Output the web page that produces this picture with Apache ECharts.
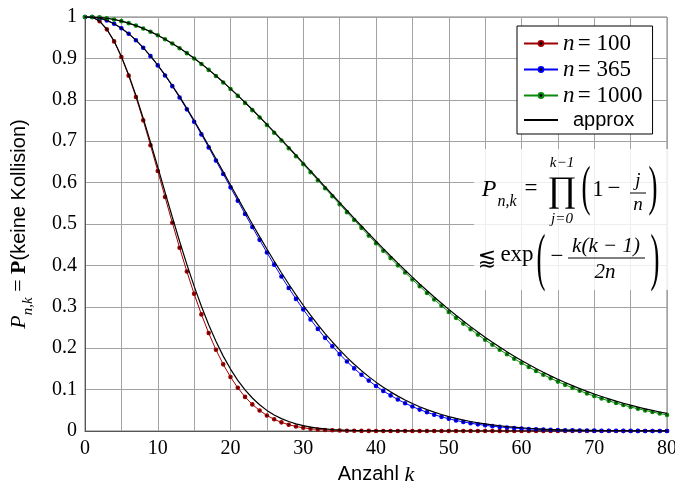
<!DOCTYPE html>
<html><head><meta charset="utf-8">
<script src="https://cdn.jsdelivr.net/npm/echarts@6/dist/echarts.min.js"></script>
<style>html,body{margin:0;padding:0;background:#fff}#c{width:675px;height:484px}</style>
</head><body><div id="c"></div>
<script>
const kValues = [0,1,2,3,4,5,6,7,8,9,10,11,12,13,14,15,16,17,18,19,20,21,22,23,24,25,26,27,28,29,30,31,32,33,34,35,36,37,38,39,40,41,42,43,44,45,46,47,48,49,50,51,52,53,54,55,56,57,58,59,60,61,62,63,64,65,66,67,68,69,70,71,72,73,74,75,76,77,78,79,80];

const p100 = [1, 1, 0.99, 0.9702, 0.941094, 0.90345, 0.858278, 0.806781, 0.750306, 0.690282,
 0.628157, 0.565341, 0.503154, 0.442776, 0.385215, 0.331285, 0.281592, 0.236537, 0.196326, 0.160988,
 0.1304, 0.10432, 0.082413, 0.064282, 0.049497, 0.037618, 0.028213, 0.020878, 0.015241, 0.010974,
 0.007791, 0.005454, 0.003763, 0.002559, 0.001715, 0.001132, 0.000736, 0.000471, 0.000297, 0.000184,
 0.000112, 0.000067, 0.00004, 0.000023, 0.000013, 0.000007, 0.000004, 0.000002, 0.000001, 0,
 0, 0, 0, 0, 0, 0, 0, 0, 0, 0,
 0, 0, 0, 0, 0, 0, 0, 0, 0, 0,
 0, 0, 0, 0, 0, 0, 0, 0, 0, 0,
 0];

const approx100 = [1, 1, 0.99005, 0.970446, 0.941765, 0.904837, 0.860708, 0.810584, 0.755784, 0.697676,
 0.637628, 0.57695, 0.516851, 0.458406, 0.402524, 0.349938, 0.301194, 0.256661, 0.216536, 0.180866,
 0.149569, 0.122456, 0.099261, 0.079659, 0.063292, 0.049787, 0.038774, 0.029897, 0.022823, 0.017249,
 0.012907, 0.009562, 0.007013, 0.005092, 0.003661, 0.002606, 0.001836, 0.001281, 0.000885, 0.000605,
 0.00041, 0.000275, 0.000182, 0.00012, 0.000078, 0.00005, 0.000032, 0.00002, 0.000013, 0.000008,
 0.000005, 0, 0, 0, 0, 0, 0, 0, 0, 0,
 0, 0, 0, 0, 0, 0, 0, 0, 0, 0,
 0, 0, 0, 0, 0, 0, 0, 0, 0, 0,
 0];

const p365 = [1, 1, 0.99726, 0.991796, 0.983644, 0.972864, 0.959538, 0.943764, 0.925665, 0.905376,
 0.883052, 0.858859, 0.832975, 0.80559, 0.776897, 0.747099, 0.716396, 0.684992, 0.653089, 0.620881,
 0.588562, 0.556312, 0.524305, 0.492703, 0.461656, 0.4313, 0.401759, 0.373141, 0.345539, 0.319031,
 0.293684, 0.269545, 0.246652, 0.225028, 0.204683, 0.185617, 0.167818, 0.151266, 0.135932, 0.12178,
 0.108768, 0.096848, 0.08597, 0.076077, 0.067115, 0.059024, 0.051747, 0.045226, 0.039402, 0.03422,
 0.029626, 0.025568, 0.021996, 0.018862, 0.016123, 0.013738, 0.011668, 0.009878, 0.008335, 0.007011,
 0.005877, 0.004911, 0.00409, 0.003395, 0.002809, 0.002316, 0.001904, 0.00156, 0.001274, 0.001037,
 0.00084, 0.00068, 0.000548, 0.00044, 0.000352, 0.000281, 0.000223, 0.000177, 0.000139, 0.00011,
 0.000086];

const approx365 = [1, 1, 0.997264, 0.991815, 0.983696, 0.972975, 0.959737, 0.94409, 0.926157, 0.906077,
 0.884009, 0.860119, 0.834585, 0.807592, 0.779334, 0.750011, 0.719812, 0.688939, 0.657586, 0.625944,
 0.594196, 0.562512, 0.53106, 0.499998, 0.469463, 0.439588, 0.410487, 0.382264, 0.355006, 0.328792,
 0.30368, 0.279719, 0.256944, 0.235377, 0.21503, 0.195904, 0.177993, 0.161274, 0.145729, 0.131318,
 0.118012, 0.105762, 0.094525, 0.08425, 0.074888, 0.066383, 0.058684, 0.051735, 0.045486, 0.03988,
 0.03487, 0.030407, 0.026441, 0.022932, 0.019832, 0.017103, 0.014711, 0.012619, 0.010794, 0.009208,
 0.007834, 0.006646, 0.005624, 0.004745, 0.003993, 0.003351, 0.002804, 0.00234, 0.001948, 0.001617,
 0.001339, 0.001105, 0.000909, 0.000747, 0.000611, 0.000499, 0.000407, 0.00033, 0.000267, 0.000216,
 0.000174];

const p1000 = [1, 1, 0.999, 0.997002, 0.994011, 0.990035, 0.985085, 0.979174, 0.97232, 0.964541,
 0.95586, 0.946301, 0.935892, 0.924661, 0.91264, 0.899863, 0.886365, 0.872183, 0.857356, 0.841924,
 0.825927, 0.809408, 0.79241, 0.774977, 0.757153, 0.738981, 0.720506, 0.701773, 0.682825, 0.663706,
 0.644459, 0.625125, 0.605746, 0.586362, 0.567012, 0.547734, 0.528563, 0.509535, 0.490682, 0.472036,
 0.453627, 0.435482, 0.417627, 0.400087, 0.382883, 0.366036, 0.349564, 0.333484, 0.31781, 0.302555,
 0.28773, 0.273344, 0.259403, 0.245914, 0.232881, 0.220305, 0.208188, 0.196529, 0.185327, 0.174578,
 0.164278, 0.154421, 0.145001, 0.136011, 0.127442, 0.119286, 0.111532, 0.104171, 0.097192, 0.090583,
 0.084333, 0.07843, 0.072861, 0.067615, 0.062679, 0.058041, 0.053688, 0.049608, 0.045788, 0.042217,
 0.038882];

const approx1000 = [1, 1, 0.999, 0.997004, 0.994018, 0.99005, 0.985112, 0.979219, 0.972388, 0.96464,
 0.955997, 0.946485, 0.936131, 0.924964, 0.913018, 0.900325, 0.88692, 0.872843, 0.85813, 0.842822,
 0.826959, 0.810584, 0.793739, 0.776468, 0.758813, 0.740818, 0.722527, 0.703984, 0.68523, 0.66631,
 0.647265, 0.628135, 0.608962, 0.589783, 0.570638, 0.551563, 0.532592, 0.513759, 0.495098, 0.476637,
 0.458406, 0.440432, 0.422739, 0.405352, 0.388291, 0.371577, 0.355226, 0.339256, 0.323682, 0.308514,
 0.293758, 0.279431, 0.265537, 0.252081, 0.239067, 0.226498, 0.214381, 0.202706, 0.191473, 0.180685,
 0.170333, 0.160414, 0.150921, 0.141847, 0.133187, 0.12493, 0.117067, 0.10959, 0.102489, 0.095752,
 0.089369, 0.083328, 0.077617, 0.072225, 0.067139, 0.062349, 0.057844, 0.05361, 0.049638, 0.045914,
 0.042426];

const xTickLabels = [0, 10, 20, 30, 40, 50, 60, 70, 80];
const yTickLabels = ['0', '0.1', '0.2', '0.3', '0.4', '0.5', '0.6', '0.7', '0.8', '0.9', '1'];
const seriesNames = ['n = 100', 'n = 365', 'n = 1000', 'approx'];
const legendLabels = {
  'n = 100': '{m|n} {r|= 100}',
  'n = 365': '{m|n} {r|= 365}',
  'n = 1000': '{m|n} {r|= 1000}',
  'approx': '{s|approx}'
};

const SERIF = '"Liberation Serif","DejaVu Serif",serif';
const SANS = '"Liberation Sans","DejaVu Sans",sans-serif';
const colors = ['#a00000', '#0000ff', '#0a8a0a'];

function pairs(arr) { return kValues.map((k, i) => [k, arr[i]]); }

function exactSeries(name, arr, col) {
  return {
    name: name, type: 'line', data: pairs(arr),
    symbol: 'circle', symbolSize: 3, showSymbol: true,
    lineStyle: { color: col, width: 1 },
    itemStyle: { color: '#000', borderColor: col, borderWidth: 1.6 },
    emphasis: { disabled: true }, z: 2
  };
}
function approxSeries(arr) {
  return {
    name: 'approx', type: 'line', data: pairs(arr), symbol: 'none', smooth: false,
    lineStyle: { color: '#000', width: 1.2 },
    itemStyle: { color: 'rgba(0,0,0,0)' },
    emphasis: { disabled: true }, z: 3
  };
}

const chart = echarts.init(document.getElementById('c'), null, { renderer: 'canvas' });

const mathFont = (size, italic) => (italic ? 'italic ' : '') + size + 'px ' + SERIF;
function T(x, y, text, font, opts) {
  return Object.assign({ type: 'text', x: x, y: y, z: 101,
    style: { text: text, font: font, fill: '#000', align: 'center', verticalAlign: 'middle' } }, opts || {});
}
function L(x1, y1, x2, y2) {
  return { type: 'line', z: 101, shape: { x1: x1, y1: y1, x2: x2, y2: y2 }, style: { stroke: '#000', lineWidth: 1 } };
}

const formula = [
  { type: 'rect', z: 100, shape: { x: 474, y: 149, width: 201, height: 141 }, style: { fill: 'rgba(255,255,255,0.82)' } },
  T(489, 190, 'P', mathFont(24, true)),
  T(507, 202, 'n,k', mathFont(16, true)),
  T(531, 189, '=', mathFont(23)),
  T(562, 192, '\u220F', '36px ' + SERIF),
  T(562, 163, 'k\u22121', mathFont(15, true)),
  T(562, 219, 'j=0', mathFont(15, true)),
  T(586, 190, '(', '54px ' + SERIF, { scaleX: 0.5 }),
  T(598, 190, '1', mathFont(23)),
  T(614, 189, '\u2212', mathFont(23)),
  T(638, 181, 'j', mathFont(19, true)),
  L(630, 193, 646, 193),
  T(638, 205, 'n', mathFont(19, true)),
  T(653, 190, ')', '54px ' + SERIF, { scaleX: 0.5 }),

  T(487, 259, '\u2A85', '22px "DejaVu Serif","DejaVu Sans",serif'),
  T(517, 255, 'exp', mathFont(23)),
  T(541, 261, '(', '64px ' + SERIF, { scaleX: 0.42 }),
  T(557, 257, '\u2212', mathFont(23)),
  T(606, 246, 'k(k \u2212 1)', mathFont(21, true)),
  L(568, 258, 645, 258),
  T(605, 272, '2n', mathFont(21, true)),
  T(655, 261, ')', '64px ' + SERIF, { scaleX: 0.42 })
];

const option = {
  animation: false,
  backgroundColor: '#fff',
  grid: { left: 85, right: 8, top: 17, bottom: 53, show: true, borderColor: '#7a7a7a', borderWidth: 1,
    containLabel: false, outerBoundsMode: 'none' },
  xAxis: {
    type: 'value', min: 0, max: 80, interval: 5,
    name: '{s|Anzahl }{m|k}', nameLocation: 'middle', nameGap: 31,
    nameTextStyle: { rich: { s: { fontFamily: SANS, fontSize: 20, color: '#000' }, m: { fontFamily: SERIF, fontStyle: 'italic', fontSize: 22, color: '#000' } } },
    axisLine: { show: true, onZero: false, lineStyle: { color: '#555', width: 1 } },
    axisTick: { show: false },
    axisLabel: { margin: 8, color: '#000', fontFamily: SERIF, fontSize: 20,
      formatter: v => xTickLabels.indexOf(v) >= 0 ? String(v) : '' },
    splitLine: { show: true, lineStyle: { color: '#a3a3a3', width: 1 } }
  },
  yAxis: {
    type: 'value', min: 0, max: 1, interval: 0.1,
    name: '{pi|P}{sub|n,k}{eq| = }{b|P}{s|(keine Kollision)}', nameLocation: 'middle', nameGap: 55, nameRotate: 90,
    nameTextStyle: { rich: {
      pi: { fontFamily: SERIF, fontStyle: 'italic', fontSize: 22, color: '#000' },
      sub: { fontFamily: SERIF, fontStyle: 'italic', fontSize: 15, color: '#000', verticalAlign: 'bottom', padding: [0, 0, -6, 0] },
      eq: { fontFamily: SERIF, fontSize: 22, color: '#000' },
      b: { fontFamily: SERIF, fontWeight: 'bold', fontSize: 22, color: '#000' },
      s: { fontFamily: SANS, fontSize: 20, color: '#000' } } },
    axisLine: { show: true, onZero: false, lineStyle: { color: '#555', width: 1 } },
    axisTick: { show: false },
    axisLabel: { margin: 8, color: '#000', fontFamily: SERIF, fontSize: 20,
      formatter: v => yTickLabels[Math.round(v * 10)] },
    splitLine: { show: true, lineStyle: { color: '#a3a3a3', width: 1 } }
  },
  legend: {
    orient: 'vertical', left: 517, top: 26,
    padding: [6, 10, 4, 6], itemGap: 3, itemWidth: 34, itemHeight: 6,
    backgroundColor: '#fff', borderColor: '#000', borderWidth: 1, borderRadius: 0,
    data: seriesNames,
    formatter: name => legendLabels[name],
    textStyle: { rich: {
      m: { fontFamily: SERIF, fontStyle: 'italic', fontSize: 23, lineHeight: 21, color: '#000' },
      r: { fontFamily: SERIF, fontSize: 23, lineHeight: 21, color: '#000' },
      s: { fontFamily: SANS, fontSize: 20, lineHeight: 21, color: '#000', padding: [0, 0, 0, 10] } } },
    selectedMode: false
  },
  series: [
    exactSeries('n = 100', p100, colors[0]),
    exactSeries('n = 365', p365, colors[1]),
    exactSeries('n = 1000', p1000, colors[2]),
    approxSeries(approx100),
    approxSeries(approx365),
    approxSeries(approx1000)
  ],
  graphic: formula
};
chart.setOption(option);
</script></body></html>
